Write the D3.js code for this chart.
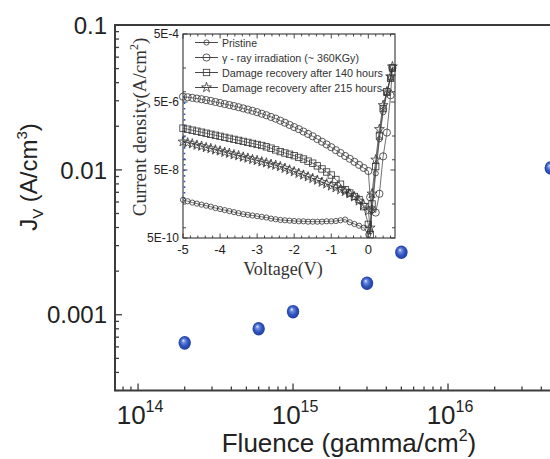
<!DOCTYPE html>
<html>
<head>
<meta charset="utf-8">
<script src="https://cdn.jsdelivr.net/npm/d3@7/dist/d3.min.js"></script>
<style>
  html, body { margin: 0; padding: 0; background: #fff; }
  svg { display: block; }
</style>
</head>
<body>
<script>
// ---- Main plot: volume current density vs. gamma fluence ----
const fluence = [2e14, 6e14, 1e15, 3e15, 5e15, 4.6e16];
const currentJv = [6.4e-4, 8.0e-4, 1.05e-3, 1.65e-3, 2.7e-3, 1.03e-2];
const mainYTicks = [0.001, 0.01, 0.1];
const mainYTickLabels = ["0.001", "0.01", "0.1"];
const mainXTicks = [1e14, 1e15, 1e16];
const mainXTickExp = ["14", "15", "16"];

// ---- Inset: J–V curves ----
const biasReverse = [-5, -4.875, -4.75, -4.625, -4.5, -4.375, -4.25, -4.125,
  -4, -3.875, -3.75, -3.625, -3.5, -3.375, -3.25, -3.125,
  -3, -2.875, -2.75, -2.625, -2.5, -2.375, -2.25, -2.125,
  -2, -1.875, -1.75, -1.625, -1.5, -1.375, -1.25, -1.125,
  -1, -0.875, -0.75, -0.625, -0.5, -0.375, -0.25, -0.125, 0];
const biasForward = [0.05, 0.1, 0.2, 0.3, 0.4, 0.5, 0.6, 0.65];

const jPristine = [6.61e-9, 6.03e-9, 5.50e-9, 5.13e-9, 4.79e-9, 4.47e-9, 4.17e-9, 3.80e-9,
  3.55e-9, 3.31e-9, 3.09e-9, 2.88e-9, 2.69e-9, 2.51e-9, 2.40e-9, 2.29e-9,
  2.19e-9, 2.09e-9, 2.00e-9, 1.86e-9, 1.78e-9, 1.70e-9, 1.66e-9, 1.62e-9,
  1.58e-9, 1.55e-9, 1.55e-9, 1.51e-9, 1.51e-9, 1.51e-9, 1.51e-9, 1.55e-9,
  1.55e-9, 1.58e-9, 1.66e-9, 1.74e-9, 1.45e-9, 1.29e-9, 1.15e-9, 1.00e-9, 6.31e-10];
const jPristineFwd = [7.9e-10, 3.2e-9, 4.0e-8, 4.0e-7, 2.5e-6, 8.9e-6, 2.5e-5, 5.0e-5];

const jGamma = [7.16e-6, 6.92e-6, 6.61e-6, 6.31e-6, 6.03e-6, 5.69e-6, 5.37e-6, 5.01e-6,
  4.68e-6, 4.37e-6, 4.07e-6, 3.80e-6, 3.51e-6, 3.24e-6, 2.99e-6, 2.75e-6,
  2.51e-6, 2.26e-6, 2.04e-6, 1.82e-6, 1.62e-6, 1.41e-6, 1.23e-6, 1.06e-6,
  9.12e-7, 7.94e-7, 6.76e-7, 5.75e-7, 4.90e-7, 4.07e-7, 3.39e-7, 2.82e-7,
  2.34e-7, 1.91e-7, 1.58e-7, 1.29e-7, 1.07e-7, 8.71e-8, 7.08e-8, 5.75e-8, 4.68e-8];
const jGammaFwd = [7.9e-9, 3.5e-9, 2.8e-9, 1.0e-8, 1.26e-7, 6.3e-7, 7.9e-6, 5.0e-5];

const j140h = [8.51e-7, 7.94e-7, 7.41e-7, 6.92e-7, 6.46e-7, 6.03e-7, 5.62e-7, 5.25e-7,
  4.90e-7, 4.57e-7, 4.27e-7, 3.98e-7, 3.72e-7, 3.47e-7, 3.24e-7, 3.02e-7,
  2.82e-7, 2.63e-7, 2.40e-7, 2.19e-7, 1.95e-7, 1.74e-7, 1.58e-7, 1.45e-7,
  1.32e-7, 1.17e-7, 1.05e-7, 9.12e-8, 7.94e-8, 6.61e-8, 5.37e-8, 4.37e-8,
  3.55e-8, 2.63e-8, 1.91e-8, 1.32e-8, 1.05e-8, 8.32e-9, 6.76e-9, 4.17e-9, 1.26e-9];
const j140hFwd = [6.3e-10, 5.0e-9, 6.3e-8, 5.0e-7, 3.2e-6, 1.0e-5, 2.5e-5, 5.0e-5];

const j215h = [3.39e-7, 3.16e-7, 2.95e-7, 2.69e-7, 2.51e-7, 2.29e-7, 2.14e-7, 1.95e-7,
  1.82e-7, 1.66e-7, 1.55e-7, 1.41e-7, 1.32e-7, 1.20e-7, 1.12e-7, 1.02e-7,
  9.55e-8, 8.71e-8, 8.13e-8, 7.41e-8, 6.92e-8, 6.31e-8, 5.62e-8, 5.01e-8,
  4.47e-8, 3.98e-8, 3.55e-8, 3.16e-8, 2.82e-8, 2.51e-8, 2.19e-8, 1.95e-8,
  1.70e-8, 1.51e-8, 1.32e-8, 1.17e-8, 1.00e-8, 8.13e-9, 6.17e-9, 4.68e-9, 3.16e-9];
const j215hFwd = [1.0e-9, 1.0e-8, 1.0e-7, 7.9e-7, 4.0e-6, 1.0e-5, 2.8e-5, 5.5e-5];

const insetYTicks = [5e-4, 5e-6, 5e-8, 5e-10];
const insetYTickLabels = ["5E-4", "5E-6", "5E-8", "5E-10"];
const insetXTicks = [-5, -4, -3, -2, -1, 0];

const seriesNames = ["Pristine", "\u03b3 - ray irradiation (~ 360KGy)",
  "Damage recovery after 140 hours", "Damage recovery after 215 hours"];

const W = 550, H = 459;
const SANS = "'Liberation Sans', Arial, Helvetica, sans-serif";
const SERIF = "'Liberation Serif', 'Times New Roman', serif";
const INK = "#333";

const svg = d3.select("body").append("svg")
  .attr("width", W).attr("height", H)
  .attr("viewBox", `0 0 ${W} ${H}`);
svg.append("rect").attr("width", W).attr("height", H).attr("fill", "#fff");

// ===== Main axes =====
const x = d3.scaleLog().domain([7.1e13, 1e17]).range([115, 603]);
const y = d3.scaleLog().domain([3e-4, 0.1]).range([390.5, 25]);

const defs = svg.append("defs");
const grad = defs.append("radialGradient").attr("id", "ball")
  .attr("cx", "50%").attr("cy", "50%").attr("r", "55%")
  .attr("fx", "38%").attr("fy", "32%");
grad.append("stop").attr("offset", "0%").attr("stop-color", "#e8eeff");
grad.append("stop").attr("offset", "25%").attr("stop-color", "#6b8ae0");
grad.append("stop").attr("offset", "60%").attr("stop-color", "#2f53bd");
grad.append("stop").attr("offset", "100%").attr("stop-color", "#1d3a98");

// log minor ticks helper: every m*10^k inside a domain
function logTicks(scale) {
  const [a, b] = scale.domain();
  const out = [];
  for (let k = Math.floor(Math.log10(a)); k <= Math.ceil(Math.log10(b)); k++) {
    for (let m = 1; m <= 9; m++) {
      const v = m * Math.pow(10, k);
      if (v >= a * 0.9999 && v <= b * 1.0001) out.push({ v, major: m === 1 });
    }
  }
  return out;
}

const main = svg.append("g");
// frame
main.append("rect")
  .attr("x", x.range()[0]).attr("y", y.range()[1])
  .attr("width", x.range()[1] - x.range()[0])
  .attr("height", y.range()[0] - y.range()[1])
  .attr("fill", "none").attr("stroke", "#3c3c3c").attr("stroke-width", 2);

// y ticks (inside, left edge)
main.selectAll("line.ytick").data(logTicks(y)).join("line")
  .attr("x1", x.range()[0]).attr("x2", d => x.range()[0] + (d.major ? 7 : 4))
  .attr("y1", d => y(d.v)).attr("y2", d => y(d.v))
  .attr("stroke", "#3c3c3c").attr("stroke-width", 1.3);
// x ticks (inside, bottom edge)
main.selectAll("line.xtick").data(logTicks(x)).join("line")
  .attr("y1", y.range()[0]).attr("y2", d => y.range()[0] - (d.major ? 7 : 4))
  .attr("x1", d => x(d.v)).attr("x2", d => x(d.v))
  .attr("stroke", "#3c3c3c").attr("stroke-width", 1.3);

main.selectAll("text.ylab").data(mainYTicks).join("text")
  .attr("x", 107).attr("y", d => y(d)).attr("dy", "0.36em")
  .attr("text-anchor", "end")
  .attr("font-family", SANS).attr("font-size", 24).attr("fill", "#222")
  .text((d, i) => mainYTickLabels[i]);

const xl = main.selectAll("text.xlab").data(mainXTicks).join("text")
  .attr("x", d => x(d) + 2).attr("y", 424)
  .attr("text-anchor", "middle")
  .attr("font-family", SANS).attr("font-size", 26).attr("fill", "#222");
xl.append("tspan").text("10");
xl.append("tspan").attr("dy", -12).attr("font-size", 16).text((d, i) => mainXTickExp[i]);

// axis titles
const xt = main.append("text").attr("x", 349).attr("y", 452)
  .attr("text-anchor", "middle").attr("font-family", SANS)
  .attr("font-size", 26).attr("fill", "#222");
xt.append("tspan").text("Fluence (gamma/cm");
xt.append("tspan").attr("dy", -11).attr("font-size", 16).text("2");
xt.append("tspan").attr("dy", 11).text(")");

const yt = main.append("text")
  .attr("transform", "translate(37,177) rotate(-90)")
  .attr("text-anchor", "middle").attr("font-family", SANS)
  .attr("font-size", 24).attr("fill", "#222");
yt.append("tspan").text("J");
yt.append("tspan").attr("dy", 6).attr("font-size", 15).text("V");
yt.append("tspan").attr("dy", -6).text(" (A/cm");
yt.append("tspan").attr("dy", -10).attr("font-size", 15).text("3");
yt.append("tspan").attr("dy", 10).text(")");

// data points
main.selectAll("ellipse.pt").data(fluence.map((f, i) => [f, currentJv[i]])).join("ellipse")
  .attr("cx", d => x(d[0])).attr("cy", d => y(d[1]))
  .attr("rx", 6.2).attr("ry", 6.8)
  .attr("fill", "url(#ball)");

// ===== Inset =====
const ix = d3.scaleLinear().domain([-5, 0.72]).range([183, 395]);
const iy = d3.scaleLog().domain([5e-10, 5e-4]).range([238, 34]);
const inset = svg.append("g");

inset.append("rect")
  .attr("x", ix.range()[0]).attr("y", iy.range()[1])
  .attr("width", ix.range()[1] - ix.range()[0])
  .attr("height", iy.range()[0] - iy.range()[1])
  .attr("fill", "#fff").attr("stroke", INK).attr("stroke-width", 1.1);

// y ticks: 5E-n decades and log minors
const iyTicks = [];
for (let k = -10; k <= -4; k++) {
  for (let m = 1; m <= 9; m++) {
    const v = m * Math.pow(10, k);
    if (v >= 5e-10 && v <= 5e-4) iyTicks.push({ v, major: m === 5 && (k % 2 === 0), mid: m === 5 });
  }
}
const iyShown = iyTicks.filter(d => d.mid || d.v === 1e-9 || d.v === 1e-7 || d.v === 1e-5);
inset.selectAll("line.iyt").data(iyShown).join("line")
  .attr("x1", ix.range()[0]).attr("x2", d => ix.range()[0] + (d.major ? 4.5 : 3))
  .attr("y1", d => iy(d.v)).attr("y2", d => iy(d.v))
  .attr("stroke", INK).attr("stroke-width", 0.9);
inset.selectAll("line.iyt2").data(iyShown).join("line")
  .attr("x1", ix.range()[1]).attr("x2", d => ix.range()[1] - (d.major ? 4.5 : 3))
  .attr("y1", d => iy(d.v)).attr("y2", d => iy(d.v))
  .attr("stroke", INK).attr("stroke-width", 0.9);

const ixMinor = [-5, -4.8, -4.6, -4.4, -4.2, -4, -3.8, -3.6, -3.4, -3.2, -3, -2.8, -2.6, -2.4, -2.2,
  -2, -1.8, -1.6, -1.4, -1.2, -1, -0.8, -0.6, -0.4, -0.2, 0, 0.2, 0.4, 0.6];
inset.selectAll("line.ixt").data(ixMinor).join("line")
  .attr("x1", d => ix(d)).attr("x2", d => ix(d))
  .attr("y1", iy.range()[0]).attr("y2", d => iy.range()[0] - (Number.isInteger(d) ? 4.5 : 2.5))
  .attr("stroke", INK).attr("stroke-width", 0.9);
inset.selectAll("line.ixt2").data(ixMinor).join("line")
  .attr("x1", d => ix(d)).attr("x2", d => ix(d))
  .attr("y1", iy.range()[1]).attr("y2", d => iy.range()[1] + (Number.isInteger(d) ? 4.5 : 2.5))
  .attr("stroke", INK).attr("stroke-width", 0.9);

inset.selectAll("text.iyl").data(insetYTicks).join("text")
  .attr("x", 179).attr("y", d => iy(d)).attr("dy", "0.36em")
  .attr("text-anchor", "end").attr("font-family", SANS)
  .attr("font-size", 12).attr("fill", "#222")
  .text((d, i) => insetYTickLabels[i]);
inset.selectAll("text.ixl").data(insetXTicks).join("text")
  .attr("x", d => ix(d)).attr("y", 254)
  .attr("text-anchor", "middle").attr("font-family", SANS)
  .attr("font-size", 13).attr("fill", "#222")
  .text(d => d);

inset.append("text").attr("x", 283).attr("y", 275)
  .attr("text-anchor", "middle").attr("font-family", SERIF)
  .attr("font-size", 18).attr("fill", "#333").text("Voltage(V)");
const iyTitle = inset.append("text")
  .attr("transform", "translate(146,127) rotate(-90)")
  .attr("text-anchor", "middle").attr("font-family", SERIF)
  .attr("font-size", 19).attr("fill", "#333");
iyTitle.append("tspan").text("Current density(A/cm");
iyTitle.append("tspan").attr("dy", -8).attr("font-size", 12).text("2");
iyTitle.append("tspan").attr("dy", 8).text(")");

// blue dotted guide at -5 V
inset.append("line")
  .attr("x1", ix(biasReverse[0]) + 1.5).attr("x2", ix(biasReverse[0]) + 1.5)
  .attr("y1", iy(jGamma[0])).attr("y2", iy(jPristine[0]))
  .attr("stroke", "#3552c8").attr("stroke-width", 1.6)
  .attr("stroke-dasharray", "1.6,4");

const allBias = biasReverse.concat(biasForward);
const series = [
  { name: seriesNames[0], vals: jPristine.concat(jPristineFwd), sym: "circle", size: 2.6, len: 35 },
  { name: seriesNames[1], vals: jGamma.concat(jGammaFwd), sym: "circle", size: 3.6, len: 137 },
  { name: seriesNames[2], vals: j140h.concat(j140hFwd), sym: "square", size: 3.2, len: 161 },
  { name: seriesNames[3], vals: j215h.concat(j215hFwd), sym: "star", size: 2.6, len: 160 }
];

const line = d3.line().x(d => ix(d[0])).y(d => iy(d[1]));
const curves = inset.append("g");

function drawMarker(g, sym, size, cx, cy) {
  if (sym === "circle") {
    g.append("circle").attr("cx", cx).attr("cy", cy).attr("r", size)
      .attr("fill", "none").attr("stroke", INK).attr("stroke-width", 0.8);
  } else if (sym === "square") {
    g.append("rect").attr("x", cx - size).attr("y", cy - size)
      .attr("width", size * 2).attr("height", size * 2)
      .attr("fill", "none").attr("stroke", INK).attr("stroke-width", 0.8);
  } else {
    g.append("path").attr("transform", `translate(${cx},${cy})`)
      .attr("d", d3.symbol(d3.symbolStar, size * size * 4.5)())
      .attr("fill", "none").attr("stroke", INK).attr("stroke-width", 0.8);
  }
}

series.forEach(s => {
  const pts = allBias.map((v, i) => [v, s.vals[i]]);
  curves.append("path").attr("d", line(pts))
    .attr("fill", "none").attr("stroke", INK).attr("stroke-width", 0.7);
  const mg = curves.append("g");
  pts.forEach(p => drawMarker(mg, s.sym, s.size, ix(p[0]), iy(p[1])));
});

// legend
const legRows = [46.5, 61.5, 76.5, 91.5];
series.forEach((s, i) => {
  const g = inset.append("g");
  g.append("line").attr("x1", 195).attr("x2", 218)
    .attr("y1", legRows[i] - 4).attr("y2", legRows[i] - 4)
    .attr("stroke", INK).attr("stroke-width", 0.9);
  drawMarker(g, s.sym, s.size, 206.5, legRows[i] - 4);
  g.append("text").attr("x", 222).attr("y", legRows[i])
    .attr("font-family", SANS).attr("font-size", 11.5).attr("fill", "#333")
    .attr("textLength", s.len).attr("lengthAdjust", "spacingAndGlyphs")
    .text(s.name);
});
</script>
</body>
</html>
